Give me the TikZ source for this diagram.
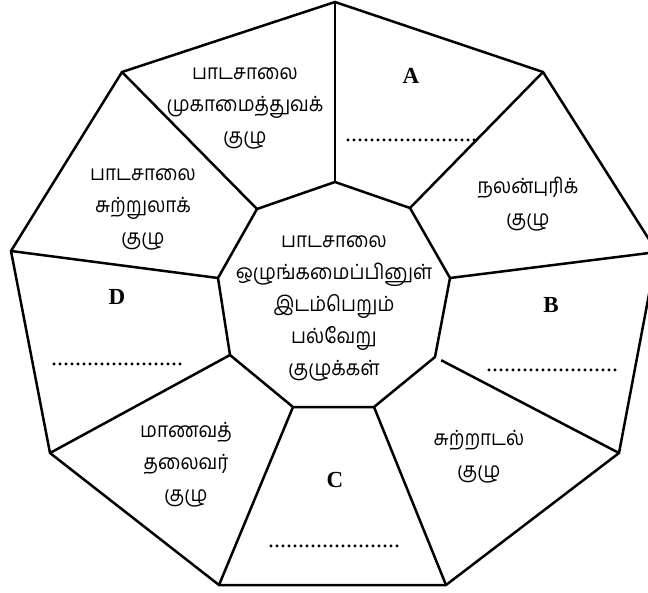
\documentclass[tikz,border=0pt]{standalone}
\usepackage{fontspec}
\setmainfont{Liberation Serif}
\newfontfamily\tamil[Script=Tamil,FakeStretch=0.9]{Hind Madurai}
\newcommand\dotrowtext{......................}
\begin{document}
\begin{tikzpicture}[x=1pt,y=-1pt,
  edge/.style={line width=2.5pt, line join=miter},
  tam/.style={font=\tamil\fontsize{21}{32}\selectfont, align=center, inner sep=0pt},
  letter/.style={font=\bfseries\fontsize{23}{23}\selectfont, inner sep=0pt},
  dotrow/.style={font=\fontsize{24}{24}\selectfont, inner sep=0pt}]
\useasboundingbox (0,0) rectangle (648,592);
\clip (0,0) rectangle (648,592);
% outer nonagon
\coordinate (O1) at (335,2);
\coordinate (O2) at (543,72);
\coordinate (O3) at (657,252);
\coordinate (O4) at (619,453);
\coordinate (O5) at (446,585);
\coordinate (O6) at (219,585);
\coordinate (O7) at (50,453);
\coordinate (O8) at (11,251);
\coordinate (O9) at (122,72);
% inner nonagon
\coordinate (I1) at (335,182);
\coordinate (I2) at (410,208);
\coordinate (I3) at (450,278);
\coordinate (I4) at (435,357);
\coordinate (I5) at (374,407);
\coordinate (I6) at (293,407);
\coordinate (I7) at (230,355);
\coordinate (I8) at (218,278);
\coordinate (I9) at (257,209);
\draw[edge] (O1)--(O2)--(O3)--(O4)--(O5)--(O6)--(O7)--(O8)--(O9)--cycle;
\draw[edge] (I1)--(I2)--(I3)--(I4)--(I5)--(I6)--(I7)--(I8)--(I9)--cycle;
\foreach \i in {1,2,3,5,6,7,8,9} \draw[edge] (I\i)--(O\i);
\draw[edge, shorten <=7pt] (I4)--(O4);
% texts
\node[tam] (t1) at (245,108) {பாடசாலை\\முகாமைத்துவக்\\குழு};
\node[letter] (la) at (411,76) {A};
\node[dotrow] (da) at (411,140) {\dotrowtext};
\node[tam] (t2) at (528,204) {நலன்புரிக்\\குழு};
\node[tam] (t3) at (143,209) {பாடசாலை\\சுற்றுலாக்\\குழு};
\node[tam] (t0) at (334,308) {பாடசாலை\\ஒழுங்கமைப்பினுள்\\இடம்பெறும்\\பல்வேறு\\குழுக்கள்};
\node[letter] (ld) at (117,297) {D};
\node[dotrow] (dd) at (117,364) {\dotrowtext};
\node[letter] (lb) at (551,305) {B};
\node[dotrow] (db) at (552,370) {\dotrowtext};
\node[tam] (t4) at (186,465) {மாணவத்\\தலைவர்\\குழு};
\node[letter] (lc) at (335,480) {C};
\node[dotrow] (dc) at (334,546) {\dotrowtext};
\node[tam] (t5) at (479,457) {சுற்றாடல்\\குழு};
\end{tikzpicture}
\end{document}
